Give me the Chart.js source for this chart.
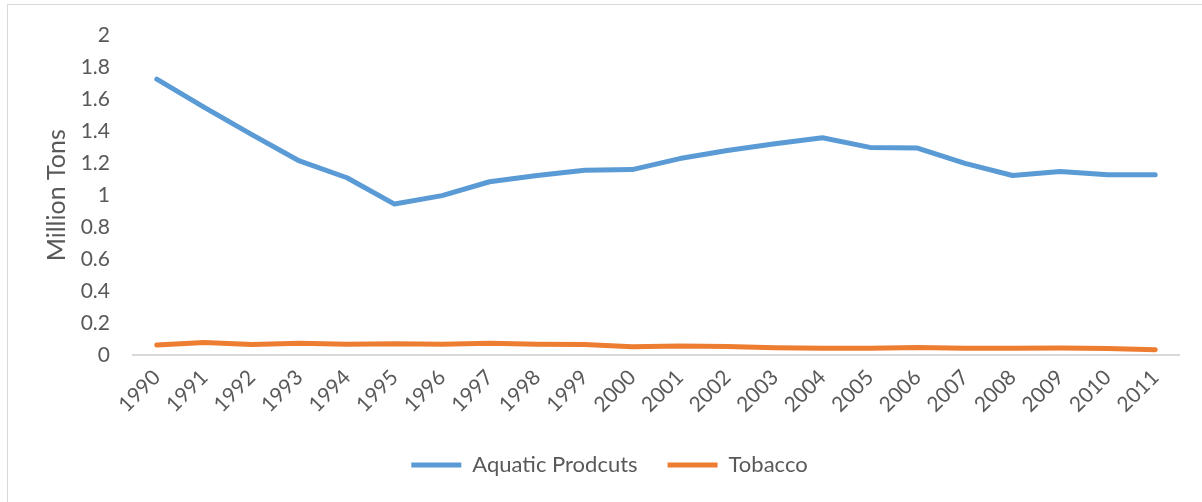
<!DOCTYPE html>
<html>
<head>
<meta charset="utf-8">
<title>Aquatic Products and Tobacco</title>
<script src="https://cdn.jsdelivr.net/npm/chart.js@4.4.1/dist/chart.umd.min.js"></script>
<style>
    html, body { margin: 0; padding: 0; background: #ffffff; }
    #wrap { position: relative; width: 1202px; height: 502px; }
    #frame {
        position: absolute; left: 7px; top: 4px; width: 1200px; height: 500px;
        border: 1px solid #d9d9d9; box-sizing: border-box; pointer-events: none;
    }
</style>
</head>
<body>
<div id="wrap">
    <canvas id="outputChart" width="1202" height="502"></canvas>
    <div id="frame"></div>
</div>
<script>
const years = ['1990', '1991', '1992', '1993', '1994', '1995', '1996', '1997', '1998', '1999', '2000',
    '2001', '2002', '2003', '2004', '2005', '2006', '2007', '2008', '2009', '2010', '2011'];

const aquaticProducts = [1.727, 1.55, 1.38, 1.215, 1.11, 0.945, 0.998, 1.085, 1.124, 1.157, 1.161,
    1.23, 1.281, 1.323, 1.36, 1.30, 1.296, 1.20, 1.124, 1.149, 1.128, 1.128];

const tobacco = [0.062, 0.078, 0.065, 0.074, 0.068, 0.071, 0.067, 0.073, 0.068, 0.066, 0.052,
    0.057, 0.054, 0.046, 0.043, 0.043, 0.047, 0.043, 0.043, 0.044, 0.040, 0.033];

const yMin = 0;
const yMax = 2;
const yStep = 0.2;

const textColor = '#595959';
const fontFamily = 'Lato, "Open Sans", sans-serif';

function lineSeries(label, data, color) {
    return {
        label: label,
        data: data,
        borderColor: color,
        backgroundColor: color,
        borderWidth: 5,
        borderCapStyle: 'round',
        borderJoinStyle: 'round',
        pointRadius: 0,
        pointHoverRadius: 0,
        tension: 0
    };
}

// nudge the legend a little right of the canvas centre
const legendShift = {
    id: 'legendShift',
    afterLayout(chart) {
        chart.legend.left += 16;
        chart.legend.right += 16;
    }
};

const ctx = document.getElementById('outputChart');

new Chart(ctx, {
    type: 'line',
    data: {
        labels: years,
        datasets: [
            lineSeries('Aquatic Prodcuts', aquaticProducts, '#5b9bd5'),
            lineSeries('Tobacco', tobacco, '#ed7d31')
        ]
    },
    options: {
        responsive: false,
        animation: false,
        layout: {
            padding: { left: 8, right: 23, top: 33, bottom: 16 }
        },
        scales: {
            x: {
                offset: true,
                grid: { display: false, drawTicks: false },
                border: { display: true, color: '#d9d9d9', width: 2 },
                ticks: {
                    color: textColor,
                    font: { family: fontFamily, size: 21 },
                    maxRotation: 45,
                    minRotation: 45,
                    padding: 10,
                    autoSkip: false
                },
                // fixed height so the plot bottom lands at zero line
                afterFit: (scale) => { scale.height = 69; }
            },
            y: {
                min: yMin,
                max: yMax,
                grid: { display: false, drawTicks: false },
                border: { display: false },
                ticks: {
                    stepSize: yStep,
                    color: textColor,
                    font: { family: fontFamily, size: 21 },
                    padding: 23,
                    callback: (v) => String(Math.round(v * 10) / 10)
                },
                title: {
                    display: true,
                    text: 'Million Tons',
                    color: textColor,
                    font: { family: fontFamily, size: 25 },
                    padding: { top: 34, bottom: 0 }
                },
                afterFit: (scale) => { scale.width = 125; }
            }
        },
        plugins: {
            legend: {
                position: 'bottom',
                labels: {
                    color: textColor,
                    font: { family: fontFamily, size: 22 },
                    usePointStyle: true,
                    pointStyle: 'line',
                    pointStyleWidth: 50,
                    padding: 30
                }
            },
            tooltip: { enabled: false }
        }
    },
    plugins: [legendShift]
});
</script>
</body>
</html>
